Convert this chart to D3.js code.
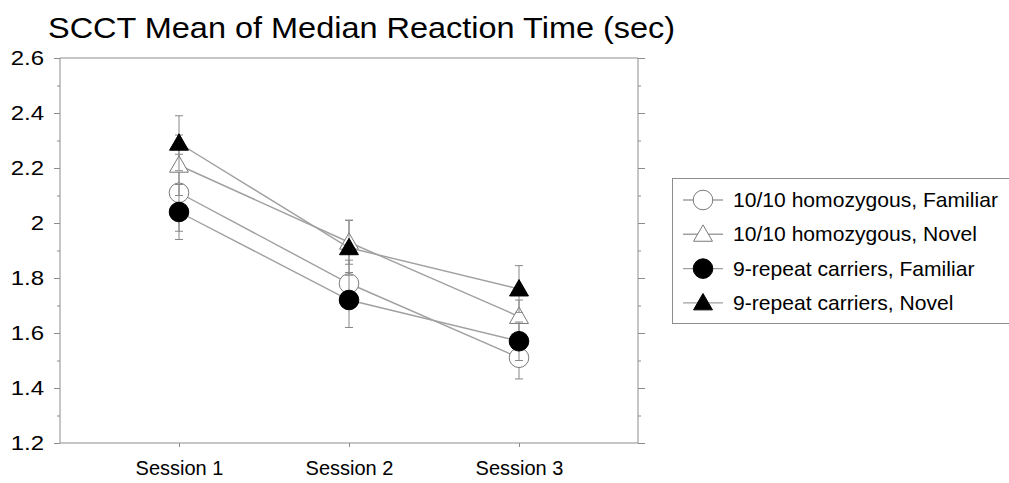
<!DOCTYPE html>
<html><head><meta charset="utf-8">
<script src="https://cdn.jsdelivr.net/npm/d3@7"></script>
<style>body{margin:0;background:#fff;}svg{display:block;font-family:"Liberation Sans",Arial,sans-serif;}</style>
</head><body><svg id="c" width="1009" height="483"></svg>
<script>
const sessions = ["Session 1", "Session 2", "Session 3"];
const seriesNames = ["10/10 homozygous, Familiar", "10/10 homozygous, Novel", "9-repeat carriers, Familiar", "9-repeat carriers, Novel"];
const seriesShapes = ["circle", "triangle", "circle", "triangle"];
const seriesFilled = [false, false, true, true];
const homFamiliar = [2.11, 1.78, 1.51];
const homNovel = [2.21, 1.93, 1.66];
const repFamiliar = [2.04, 1.72, 1.57];
const repNovel = [2.29, 1.91, 1.76];
const homFamiliarErr = [0.14, 0.085, 0.077];
const homNovelErr = [0.11, 0.08, 0.06];
const repFamiliarErr = [0.10, 0.10, 0.07];
const repNovelErr = [0.10, 0.10, 0.085];
const yTicks = [1.2, 1.4, 1.6, 1.8, 2.0, 2.2, 2.4, 2.6];
const title = "SCCT Mean of Median Reaction Time (sec)";

const values = [homFamiliar, homNovel, repFamiliar, repNovel];
const errs = [homFamiliarErr, homNovelErr, repFamiliarErr, repNovelErr];

const svg = d3.select("#c");
const L = 60, R = 638, T = 58, B = 443;
const x = d3.scaleLinear().domain([0.3, 3.7]).range([L, R]);
const y = d3.scaleLinear().domain([1.2, 2.6]).range([B, T]);
const axisCol = "#8c8c8c", lineCol = "#a0a0a0";

// horizontally stretch a text around its anchor x
function stretch(sel, sx) {
  sel.each(function() {
    const t = d3.select(this);
    const ax = +t.attr("x") || 0;
    t.attr("x", ax / sx).attr("transform", `scale(${sx},1)`);
  });
}

const tt = svg.append("text").attr("x", 48).attr("y", 38).attr("font-size", 29).attr("fill", "#000").text(title);
stretch(tt, 1.12);

svg.append("line").attr("x1", L).attr("x2", R).attr("y1", T).attr("y2", T).attr("stroke", axisCol);
const minor = d3.range(13, 27).map(d => d / 10);
const yl = svg.append("g").attr("transform", `translate(${L},0)`)
  .call(d3.axisLeft(y).tickValues(minor).tickSize(3).tickFormat(""));
const yl2 = svg.append("g").attr("transform", `translate(${L},0)`)
  .call(d3.axisLeft(y).tickValues(yTicks).tickSize(6).tickPadding(10).tickFormat(d => d3.format("")(+d.toFixed(1))));
const yr = svg.append("g").attr("transform", `translate(${R},0)`)
  .call(d3.axisRight(y).tickValues(minor).tickSize(3).tickFormat(""));
const yr2 = svg.append("g").attr("transform", `translate(${R},0)`)
  .call(d3.axisRight(y).tickValues(yTicks).tickSize(7).tickFormat(""));
const xb = svg.append("g").attr("transform", `translate(0,${B})`)
  .call(d3.axisBottom(x).tickValues([1, 2, 3]).tickSize(4).tickPadding(14).tickFormat((d, i) => sessions[i]));
[yl, yl2, yr, yr2, xb].forEach(g => {
  g.select(".domain").attr("d", null);
  g.selectAll(".tick line").attr("stroke", axisCol);
  g.selectAll("text").attr("font-size", 20).attr("fill", "#000").attr("font-family", '"Liberation Sans",Arial,sans-serif');
});
stretch(yl2.selectAll("text"), 1.2);
svg.append("line").attr("x1", L).attr("x2", L).attr("y1", T).attr("y2", B).attr("stroke", axisCol);
svg.append("line").attr("x1", R).attr("x2", R).attr("y1", T).attr("y2", B).attr("stroke", axisCol);
svg.append("line").attr("x1", L).attr("x2", R).attr("y1", B).attr("y2", B).attr("stroke", axisCol);

const circleSym = d3.symbol().type(d3.symbolCircle).size(Math.PI * 9.8 * 9.8);
const triSym = d3.symbol().type(d3.symbolTriangle).size(155);
function drawMarker(g, shape, filled, cx, cy) {
  g.append("path").attr("d", shape === "circle" ? circleSym() : triSym())
    .attr("transform", `translate(${cx},${cy + (shape === "triangle" ? 1.5 : 0)})`)
    .attr("fill", filled ? "#000" : "#fff")
    .attr("stroke", filled ? "#000" : "#7a7a7a").attr("stroke-width", 1);
}

const line = d3.line().x((d, i) => x(i + 1)).y(d => y(d));
values.forEach((vals, s) => {
  const g = svg.append("g");
  g.append("path").attr("d", line(vals)).attr("fill", "none").attr("stroke", lineCol).attr("stroke-width", 1.4);
  vals.forEach((v, i) => {
    const e = errs[s][i], cx = x(i + 1);
    g.append("line").attr("x1", cx).attr("x2", cx).attr("y1", y(v - e)).attr("y2", y(v + e)).attr("stroke", "#888");
    [v - e, v + e].forEach(w => g.append("line").attr("x1", cx - 4).attr("x2", cx + 4).attr("y1", y(w)).attr("y2", y(w)).attr("stroke", "#888"));
  });
  vals.forEach((v, i) => drawMarker(g, seriesShapes[s], seriesFilled[s], x(i + 1), y(v)));
});

const lg = svg.append("g");
lg.append("rect").attr("x", 672.5).attr("y", 178.5).attr("width", 400).attr("height", 145).attr("fill", "#fff").attr("stroke", axisCol);
seriesNames.forEach((n, i) => {
  const cy = 200 + i * 34.3;
  lg.append("line").attr("x1", 683).attr("x2", 723).attr("y1", cy).attr("y2", cy).attr("stroke", lineCol).attr("stroke-width", 1.4);
  drawMarker(lg, seriesShapes[i], seriesFilled[i], 703, cy);
  const t = lg.append("text").attr("x", 733).attr("y", cy).attr("dy", "0.35em").attr("font-size", 20).attr("fill", "#000").text(n);
  stretch(t, 1.055);
});
</script></body></html>
